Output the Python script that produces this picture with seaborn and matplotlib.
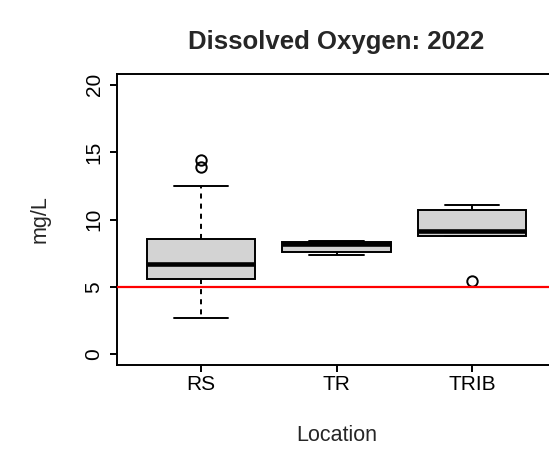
import matplotlib
matplotlib.use("Agg")
import matplotlib.pyplot as plt
import seaborn as sns
import pandas as pd

# Dissolved oxygen readings (mg/L) by sampling location, 2022
locations = ["RS", "TR", "TRIB"]
rs_values = [2.7, 4.1, 5.0, 5.61, 6.1, 6.4, 6.67, 7.3, 8.0, 8.52, 12.47, 13.9, 14.44]
tr_values = [7.33, 7.58, 8.15, 8.35, 8.44]
trib_values = [5.43, 8.77, 9.14, 10.74, 11.1]
do_standard = 5.0
y_ticks = [0, 5, 10, 15, 20]

df = pd.DataFrame({
    "Location": (["RS"] * len(rs_values) + ["TR"] * len(tr_values)
                 + ["TRIB"] * len(trib_values)),
    "DO": rs_values + tr_values + trib_values,
})

sns.set_style("white")
plt.rcParams["font.family"] = ["Liberation Sans", "DejaVu Sans"]

W, H = 549, 474
fig = plt.figure(figsize=(W / 100, H / 100), dpi=100)
# plot region in pixels: left 117, top 74, right 556 (runs past the edge), bottom 365
ax = fig.add_axes([117 / W, 1 - 365 / H, 439 / W, 291 / H])

lw = 1.4
sns.boxplot(
    data=df, x="Location", y="DO", order=locations, ax=ax,
    color="#D3D3D3", saturation=1, linecolor="black", linewidth=lw, width=0.8,
    medianprops=dict(linewidth=3.3, color="black"),
    whiskerprops=dict(linestyle=(0, (2.6, 2.6)), linewidth=lw, color="black"),
    capprops=dict(linewidth=lw, color="black"),
    flierprops=dict(marker="o", markersize=7.5, markerfacecolor="none",
                    markeredgecolor="black", markeredgewidth=1.4),
)

ax.axhline(do_standard, color="#FF0000", linewidth=1.6, zorder=10)

ax.set_xlim(-0.62, 2.62)
ax.set_ylim(-0.8, 20.8)
ax.set_yticks(y_ticks)
ax.set_yticklabels([str(t) for t in y_ticks])

for side in ["left", "right", "top", "bottom"]:
    ax.spines[side].set_visible(True)
    ax.spines[side].set_color("black")
    ax.spines[side].set_linewidth(lw)

ax.tick_params(axis="both", which="major", direction="out", length=5.2,
               width=lw, color="black", labelsize=15, labelcolor="black")
ax.tick_params(axis="x", pad=1.8, bottom=True)
ax.tick_params(axis="y", pad=4.5, left=True, labelrotation=90)
for lab in ax.get_yticklabels():
    lab.set_va("center")

ax.set_xlabel("Location", fontsize=15.5)
ax.xaxis.set_label_coords(0.5, (365 - 441) / 291)
ax.xaxis.label.set_va("baseline")
ax.set_ylabel("mg/L", fontsize=15.5)
ax.yaxis.set_label_coords((40 - 117) / 439, 0.5)
ax.yaxis.label.set_va("center")

fig.text(336.5 / W, 1 - 49 / H, "Dissolved Oxygen: 2022", ha="center",
         va="baseline", fontsize=18.5, fontweight="bold")

fig.savefig("out.png", dpi=100)
